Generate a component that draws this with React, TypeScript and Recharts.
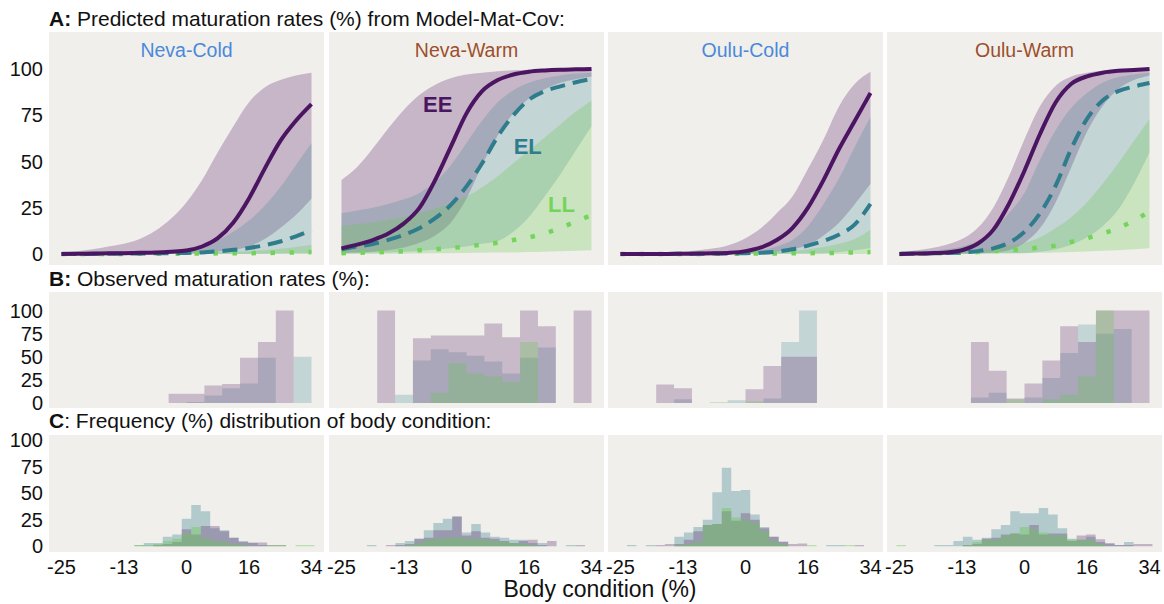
import React from 'react';
import {
  ComposedChart,
  AreaChart,
  Area,
  Line,
  XAxis,
  YAxis,
  CartesianGrid,
  ReferenceDot,
} from 'recharts';

const FONT = '"Liberation Sans", Arial, Helvetica, sans-serif';
const TEXT = '#111111';
const PANEL_BG = '#f1efec';
const EE_COLOR = '#4b1561';
const EL_COLOR = '#2f7d8c';
const LL_COLOR = '#74d45a';
const EE_FILL = '#6e3f7a';
const EL_FILL = '#3f8792';
const LL_FILL = '#66c850';

// x ticks are evenly spaced; labels are body condition in %
const xTicks = [-2, -1, 0, 1, 2];
const bodyConditionLabels = ['-25', '-13', '0', '16', '34'];
const rateTicks = [0, 25, 50, 75, 100];

const populations = ['Neva-Cold', 'Neva-Warm', 'Oulu-Cold', 'Oulu-Warm'];
const populationColors = ['#4a89d9', '#9c4f2c', '#4a89d9', '#9c4f2c'];

// ---- A: predicted maturation rates ----
const predX = [-2, -1.75, -1.5, -1.25, -1, -0.75, -0.5, -0.25, 0, 0.25, 0.5, 0.75, 1, 1.25, 1.5, 1.75, 2];

const nevaColdEE = [0, 0.1, 0.2, 0.3, 0.4, 0.6, 0.8, 1.2, 1.8, 4, 8.5, 17, 30, 46, 61, 72, 81];
const nevaColdEELo = [0, 0, 0, 0, 0, 0, 0.1, 0.2, 0.4, 0.8, 1.3, 2.2, 4, 8, 14, 21, 30];
const nevaColdEEHi = [0.5, 1.5, 2.5, 4, 5.5, 8, 12.5, 19, 28, 40, 55, 69, 82, 90, 94, 96.5, 98];
const nevaColdEL = [0, 0, 0, 0.1, 0.2, 0.2, 0.3, 0.4, 0.5, 0.8, 1.4, 2.2, 3.2, 4.7, 6.7, 9.5, 13];
const nevaColdELLo = [0, 0, 0, 0, 0, 0, 0, 0, 0, 0, 0, 0, 0, 0.1, 0.2, 0.3, 0.5];
const nevaColdELHi = [0, 0.1, 0.2, 0.3, 0.4, 0.6, 1, 1.8, 3, 5, 7.5, 12, 18, 26, 36, 48, 60];
const nevaColdLL = [0, 0, 0, 0, 0, 0.1, 0.1, 0.1, 0.2, 0.2, 0.3, 0.3, 0.4, 0.5, 0.6, 0.8, 1];
const nevaColdLLLo = [0, 0, 0, 0, 0, 0, 0, 0, 0, 0, 0, 0, 0, 0, 0, 0, 0];
const nevaColdLLHi = [0, 0, 0.1, 0.1, 0.2, 0.2, 0.3, 0.4, 0.5, 0.7, 0.9, 1.2, 1.5, 2, 2.8, 3.8, 5];

const nevaWarmEE = [3, 5, 7.5, 11, 16.5, 25, 40, 58, 76, 88, 94, 97, 98.5, 99.2, 99.6, 99.8, 100];
const nevaWarmEELo = [0.5, 0.8, 1.2, 2, 3.5, 6, 10, 17, 30, 48, 64, 76, 84, 89, 92.5, 94.5, 96];
const nevaWarmEEHi = [40, 47, 57, 68, 78, 86, 91.5, 95, 97, 98, 98.8, 99.3, 99.6, 99.8, 99.9, 100, 100];
const nevaWarmEL = [2.5, 4, 5.4, 7.6, 10.3, 14, 19.3, 26.5, 36.5, 49, 63.5, 75, 83.4, 88, 90.6, 92.8, 94.6];
const nevaWarmELLo = [0.3, 0.4, 0.6, 0.8, 1.2, 1.6, 2.2, 3, 4, 5.5, 7, 12, 20, 31, 43, 56, 69];
const nevaWarmELHi = [22, 23.5, 25, 27, 29.5, 33, 39, 48, 60, 72, 82, 88.5, 92.5, 95, 96.5, 97.5, 98];
const nevaWarmLL = [0.4, 0.6, 0.8, 1.1, 1.5, 2, 2.5, 3.2, 4, 5, 6, 7.5, 9, 11, 14, 17.5, 21];
const nevaWarmLLLo = [0, 0, 0, 0.1, 0.1, 0.2, 0.3, 0.4, 0.5, 0.6, 0.7, 0.8, 1, 1.2, 1.4, 1.7, 2];
const nevaWarmLLHi = [15, 16, 17, 18.5, 20, 22, 24.5, 27.5, 31, 36, 42, 49, 56, 63, 70, 77, 83];

const ouluColdEE = [0, 0, 0, 0, 0.1, 0.2, 0.3, 0.6, 1.5, 3.5, 7.5, 14, 25, 40, 57, 72, 87];
const ouluColdEELo = [0, 0, 0, 0, 0, 0, 0.1, 0.2, 0.3, 0.5, 1, 2.5, 5, 10, 17, 27, 38];
const ouluColdEEHi = [0.2, 0.3, 0.5, 0.8, 1.2, 2, 3, 5, 8.5, 14, 22, 31, 46, 62, 80, 92, 98.5];
const ouluColdEL = [0, 0, 0, 0, 0.1, 0.1, 0.2, 0.3, 0.4, 0.6, 1.2, 2.5, 4.5, 7, 10.5, 16, 27];
const ouluColdELLo = [0, 0, 0, 0, 0, 0, 0, 0, 0, 0, 0, 0.1, 0.2, 0.4, 1, 2, 3];
const ouluColdELHi = [0, 0, 0, 0.1, 0.2, 0.3, 0.5, 0.7, 1, 2, 4, 7.5, 15, 27, 41, 58, 74];
const ouluColdLL = [0, 0, 0, 0, 0, 0, 0.1, 0.1, 0.1, 0.2, 0.2, 0.3, 0.4, 0.5, 0.6, 0.8, 1];
const ouluColdLLLo = [0, 0, 0, 0, 0, 0, 0, 0, 0, 0, 0, 0, 0, 0, 0, 0, 0];
const ouluColdLLHi = [0.1, 0.1, 0.2, 0.2, 0.3, 0.3, 0.4, 0.5, 0.6, 0.8, 1, 1.5, 2.5, 3.8, 5.5, 8, 13];

const ouluWarmEE = [0, 0.2, 0.4, 0.8, 2, 5.5, 13, 27, 45, 65, 82, 92, 96, 98, 99, 99.5, 100];
const ouluWarmEELo = [0, 0, 0, 0.1, 0.2, 0.4, 0.8, 2, 6, 14, 28, 47, 66, 80, 89, 94, 96.5];
const ouluWarmEEHi = [1, 1.8, 3, 5, 8, 14, 25, 42, 62, 80, 91, 96, 98, 99, 99.5, 99.8, 100];
const ouluWarmEL = [0, 0.1, 0.3, 0.5, 0.8, 1.5, 3, 6, 12, 22, 37, 57, 73, 83, 88, 90.5, 92.4];
const ouluWarmELLo = [0, 0, 0, 0, 0, 0.1, 0.2, 0.3, 0.5, 1.2, 2.5, 5, 9, 15, 24, 38, 55];
const ouluWarmELHi = [0.5, 1, 1.6, 2.5, 4, 7, 13, 22, 33, 51, 67, 79, 87, 92.5, 95.5, 97, 98];
const ouluWarmLL = [0, 0.1, 0.3, 0.4, 0.7, 1, 1.5, 2, 2.5, 3.5, 4.5, 6.5, 8.5, 11, 14, 18, 23];
const ouluWarmLLLo = [0, 0, 0, 0, 0, 0.1, 0.2, 0.3, 0.4, 0.6, 0.8, 1, 1.3, 1.7, 2, 2.5, 3];
const ouluWarmLLHi = [0.5, 0.8, 1, 1.2, 1.5, 2, 3, 4.5, 6, 9, 14, 20, 28, 38, 49, 61, 73];

// ---- B: observed maturation rates (bins between edges) ----
const obsEdges = [-2, -1.714, -1.429, -1.143, -0.857, -0.571, -0.286, 0, 0.286, 0.571, 0.857, 1.143, 1.429, 1.714, 2];

const nevaColdObsEE = [0, 0, 0, 0, 0, 0, 10, 10, 19, 20.5, 49, 66, 100, 0];
const nevaColdObsEL = [0, 0, 0, 0, 0, 0, 0, 1, 8, 16, 21, 49, 0, 50];
const nevaColdObsLL = [0, 0, 0, 0, 0, 0, 0, 0, 0, 0, 0, 0, 0, 0];

const nevaWarmObsEE = [0, 0, 100, 0, 70, 73, 73, 73, 86, 71, 100, 83, 0, 100];
const nevaWarmObsEL = [0, 0, 0, 9, 46, 58, 55, 51, 45, 32, 49, 60, 0, 0];
const nevaWarmObsLL = [0, 0, 0, 0, 0, 11, 43, 32, 29, 23, 66, 0, 0, 0];

const ouluColdObsEE = [0, 0, 20, 16, 0, 0, 0, 15, 40, 50, 50, 0, 0, 0];
const ouluColdObsEL = [0, 0, 0, 4, 0, 0, 3, 0, 5, 66, 100, 0, 0, 0];
const ouluColdObsLL = [0, 0, 0, 0, 0, 1, 0, 2, 0, 0, 0, 0, 0, 0];

const ouluWarmObsEE = [0, 0, 0, 0, 66, 35, 5, 21, 46, 83, 66, 100, 100, 100];
const ouluWarmObsEL = [0, 0, 0, 0, 6, 11, 0, 6, 27, 54, 85, 75, 80, 0];
const ouluWarmObsLL = [0, 0, 0, 0, 0, 0, 4, 0, 4, 9, 29, 100, 0, 0];

// ---- C: frequency distribution of body condition ----
const freqEdges = [
  -2.2, -2.048, -1.897, -1.745, -1.593, -1.441, -1.29, -1.138, -0.986, -0.834, -0.683, -0.531, -0.379, -0.228, -0.076,
  0.076, 0.228, 0.379, 0.531, 0.683, 0.834, 0.986, 1.138, 1.29, 1.441, 1.593, 1.745, 1.897, 2.048, 2.2,
];

const nevaColdFreqEL = [0, 0, 0, 0, 0, 0, 0, 0, 0, 1, 3, 3, 9, 11, 26, 39, 33, 17, 15, 8, 5, 3, 1, 0, 0, 0, 0, 0, 0];
const nevaColdFreqEE = [0, 0, 0, 0, 0, 0, 0, 0, 0, 0, 0, 1, 2, 4, 16, 11, 19, 19, 14, 8, 4, 3.5, 3.5, 1, 1, 0, 0, 0, 0];
const nevaColdFreqLL = [0, 0, 0, 0, 0, 0, 0, 0, 0, 1, 1, 2, 5, 7, 12, 18, 8, 5, 4, 2, 1, 0, 0, 1, 1, 0, 1, 1, 0];

const nevaWarmFreqEL = [0, 0, 0, 0, 1, 0, 0, 3, 5, 7, 15, 22, 26, 28, 13, 21, 13, 9, 8, 6, 6, 3, 3, 0, 0, 1, 0, 0, 0];
const nevaWarmFreqEE = [0, 0, 0, 0, 0, 0, 1, 1, 2, 7, 8, 15, 15, 28, 10, 14, 8, 7, 5, 3, 5, 6, 1, 5, 0, 0, 1, 0, 0];
const nevaWarmFreqLL = [0, 0, 0, 0, 0, 0, 0, 0, 1, 3, 6, 7, 8, 8, 7, 7, 6, 5, 4, 3, 2, 1, 0, 0, 0, 0, 0, 0, 0];

const ouluColdFreqEL = [0, 0, 1, 0, 1, 0, 0, 9, 13, 18, 25, 51, 74, 52, 53, 30, 18, 9, 4, 0, 0, 0, 0, 1, 1, 0, 0, 0, 0];
const ouluColdFreqEE = [0, 0, 0, 0, 0, 1, 2, 2, 6, 14, 20, 21, 33, 24, 31, 25, 17, 9, 4.5, 2, 2.5, 0, 0, 0, 0, 0, 1, 0, 0];
const ouluColdFreqLL = [0, 0, 0, 0, 0, 0, 0, 1, 2, 4, 20, 21, 36, 27, 25, 22, 14, 5, 2, 0, 0, 1, 0, 0, 0, 1, 0, 0, 0];

const ouluWarmFreqEL = [0, 0, 0, 0, 0, 1, 1, 5, 9, 6, 8, 16, 20, 33, 31, 31, 36, 30, 17, 7, 6, 9, 4, 2, 1, 4, 0, 0, 0];
const ouluWarmFreqEE = [0, 0, 0, 0, 0, 0, 0, 0, 1, 2, 7, 8, 11, 12, 11, 20, 11, 12, 12, 5, 10, 11, 6.5, 3, 1, 1, 2, 2, 0];
const ouluWarmFreqLL = [0, 1, 0, 0, 0, 0, 0, 0, 1, 4, 6, 6, 10, 12, 18, 16, 13, 10, 10, 6, 6, 6, 2, 0, 0, 0, 0, 0, 0];

// ---- layout ----
const PANEL_LEFT = [49, 329, 608, 887];
const PANEL_W = 275;
const AXIS_W = 49;
const X_DOMAIN: [number, number] = [-2.2, 2.2];

const predictedSets = [
  [nevaColdEE, nevaColdEELo, nevaColdEEHi, nevaColdEL, nevaColdELLo, nevaColdELHi, nevaColdLL, nevaColdLLLo, nevaColdLLHi],
  [nevaWarmEE, nevaWarmEELo, nevaWarmEEHi, nevaWarmEL, nevaWarmELLo, nevaWarmELHi, nevaWarmLL, nevaWarmLLLo, nevaWarmLLHi],
  [ouluColdEE, ouluColdEELo, ouluColdEEHi, ouluColdEL, ouluColdELLo, ouluColdELHi, ouluColdLL, ouluColdLLLo, ouluColdLLHi],
  [ouluWarmEE, ouluWarmEELo, ouluWarmEEHi, ouluWarmEL, ouluWarmELLo, ouluWarmELHi, ouluWarmLL, ouluWarmLLLo, ouluWarmLLHi],
];
const observedSets = [
  [nevaColdObsEE, nevaColdObsEL, nevaColdObsLL],
  [nevaWarmObsEE, nevaWarmObsEL, nevaWarmObsLL],
  [ouluColdObsEE, ouluColdObsEL, ouluColdObsLL],
  [ouluWarmObsEE, ouluWarmObsEL, ouluWarmObsLL],
];
const frequencySets = [
  [nevaColdFreqEE, nevaColdFreqEL, nevaColdFreqLL],
  [nevaWarmFreqEE, nevaWarmFreqEL, nevaWarmFreqLL],
  [ouluColdFreqEE, ouluColdFreqEL, ouluColdFreqLL],
  [ouluWarmFreqEE, ouluWarmFreqEL, ouluWarmFreqLL],
];

const predictedTable = (col: number) => {
  const [ee, eeLo, eeHi, el, elLo, elHi, ll, llLo, llHi] = predictedSets[col];
  return predX.map((x, i) => ({
    x,
    ee: ee[i],
    eeBand: [eeLo[i], eeHi[i]],
    el: el[i],
    elBand: [elLo[i], elHi[i]],
    ll: ll[i],
    llBand: [llLo[i], llHi[i]],
  }));
};

// step table: one row per bin edge, value of the bin that starts there
const stepTable = (edges: number[], sets: number[][]) =>
  edges.map((x, i) => ({
    x,
    ee: sets[0][i] ?? 0,
    el: sets[1][i] ?? 0,
    ll: sets[2][i] ?? 0,
  }));

const frame = (col: number) =>
  col === 0 ? { left: 0, width: AXIS_W + PANEL_W } : { left: PANEL_LEFT[col], width: PANEL_W };

const yAxisFor = (col: number, domain: [number, number]) => (
  <YAxis
    type="number"
    domain={domain}
    ticks={rateTicks}
    allowDataOverflow
    hide={col !== 0}
    width={AXIS_W}
    axisLine={false}
    tickLine={false}
    tickSize={0}
    tickMargin={6}
    interval={0}
    tick={{ fontSize: 20, fill: TEXT, fontFamily: FONT }}
  />
);

const labelDot = (x: number, y: number, text: string, color: string) => (
  <ReferenceDot
    x={x}
    y={y}
    r={0}
    fill="none"
    stroke="none"
    ifOverflow="visible"
    label={{ value: text, position: 'center', fill: color, fontSize: 22, fontWeight: 'bold', fontFamily: FONT }}
  />
);

const PredictedPanel = ({ col }: { col: number }) => {
  const f = frame(col);
  return (
    <div style={{ position: 'absolute', left: f.left, top: 32 }}>
      <ComposedChart width={f.width} height={233} data={predictedTable(col)} margin={{ top: 0, right: 0, bottom: 0, left: 0 }}>
        <CartesianGrid fill={PANEL_BG} stroke="none" horizontal={false} vertical={false} />
        <XAxis type="number" dataKey="x" domain={X_DOMAIN} allowDataOverflow hide />
        {yAxisFor(col, [-6, 120])}
        <Area type="monotone" dataKey="eeBand" stroke="none" fill={EE_FILL} fillOpacity={0.32} isAnimationActive={false} />
        <Area type="monotone" dataKey="elBand" stroke="none" fill={EL_FILL} fillOpacity={0.25} isAnimationActive={false} />
        <Area type="monotone" dataKey="llBand" stroke="none" fill={LL_FILL} fillOpacity={0.28} isAnimationActive={false} />
        <Line type="monotone" dataKey="ll" stroke={LL_COLOR} strokeWidth={4.5} strokeDasharray="4.5 14.5" dot={false} isAnimationActive={false} />
        <Line type="monotone" dataKey="el" stroke={EL_COLOR} strokeWidth={4} strokeDasharray="15 8" dot={false} isAnimationActive={false} />
        <Line type="monotone" dataKey="ee" stroke={EE_COLOR} strokeWidth={4} dot={false} isAnimationActive={false} />
        {col === 1 && labelDot(-0.46, 81, 'EE', EE_COLOR)}
        {col === 1 && labelDot(0.98, 58.5, 'EL', EL_COLOR)}
        {col === 1 && labelDot(1.52, 27, 'LL', LL_COLOR)}
      </ComposedChart>
    </div>
  );
};

const StepPanel = ({
  col,
  top,
  height,
  axisHeight,
  domain,
  data,
  opacity,
}: {
  col: number;
  top: number;
  height: number;
  axisHeight: number;
  domain: [number, number];
  data: { x: number; ee: number; el: number; ll: number }[];
  opacity: number[];
}) => {
  const f = frame(col);
  return (
    <div style={{ position: 'absolute', left: f.left, top }}>
      <AreaChart width={f.width} height={height + axisHeight} data={data} margin={{ top: 0, right: 0, bottom: 0, left: 0 }}>
        <CartesianGrid fill={PANEL_BG} stroke="none" horizontal={false} vertical={false} />
        <XAxis
          type="number"
          dataKey="x"
          domain={X_DOMAIN}
          allowDataOverflow
          hide={axisHeight === 0}
          height={axisHeight}
          ticks={xTicks}
          interval={0}
          axisLine={false}
          tickLine={false}
          tickSize={0}
          tickMargin={8}
          tickFormatter={(v: number) => bodyConditionLabels[xTicks.indexOf(v)]}
          tick={{ fontSize: 20, fill: TEXT, fontFamily: FONT }}
        />
        {yAxisFor(col, domain)}
        <Area type="stepAfter" dataKey="el" baseValue={0} stroke="none" fill={EL_FILL} fillOpacity={opacity[1]} isAnimationActive={false} />
        <Area type="stepAfter" dataKey="ee" baseValue={0} stroke="none" fill={EE_FILL} fillOpacity={opacity[0]} isAnimationActive={false} />
        <Area type="stepAfter" dataKey="ll" baseValue={0} stroke="none" fill={LL_FILL} fillOpacity={opacity[2]} isAnimationActive={false} />
      </AreaChart>
    </div>
  );
};

export default function App() {
  return (
    <div
      style={{
        position: 'absolute',
        left: 0,
        top: 0,
        width: 1164,
        height: 604,
        background: '#ffffff',
        fontFamily: FONT,
        overflow: 'hidden',
      }}
    >
      <style>{`.recharts-wrapper, .recharts-surface { overflow: visible !important; }`}</style>
      {populations.map((p, col) => (
        <PredictedPanel key={`a-${p}`} col={col} />
      ))}
      {populations.map((p, col) => (
        <StepPanel
          key={`b-${p}`}
          col={col}
          top={292}
          height={116}
          axisHeight={0}
          domain={[-5.4, 120]}
          data={stepTable(obsEdges, observedSets[col])}
          opacity={[0.3, 0.25, 0.3]}
        />
      ))}
      {populations.map((p, col) => (
        <StepPanel
          key={`c-${p}`}
          col={col}
          top={435}
          height={117}
          axisHeight={30}
          domain={[-5.5, 105]}
          data={stepTable(freqEdges, frequencySets[col])}
          opacity={[0.35, 0.35, 0.4]}
        />
      ))}
      <svg width={1164} height={604} style={{ position: 'absolute', left: 0, top: 0, pointerEvents: 'none' }}>
        <text x={49} y={26} fontSize={21} fill={TEXT} fontFamily={FONT}>
          <tspan fontWeight="bold">A:</tspan> Predicted maturation rates (%) from Model-Mat-Cov:
        </text>
        <text x={49} y={286} fontSize={21} fill={TEXT} fontFamily={FONT}>
          <tspan fontWeight="bold">B:</tspan> Observed maturation rates (%):
        </text>
        <text x={49} y={428} fontSize={21} fill={TEXT} fontFamily={FONT}>
          <tspan fontWeight="bold">C</tspan>: Frequency (%) distribution of body condition:
        </text>
        {populations.map((p, col) => (
          <text
            key={`t-${p}`}
            x={PANEL_LEFT[col] + PANEL_W / 2}
            y={57}
            textAnchor="middle"
            fontSize={19.5}
            fill={populationColors[col]}
            fontFamily={FONT}
          >
            {p}
          </text>
        ))}
        <text x={600} y={597} textAnchor="middle" fontSize={23} fill={TEXT} fontFamily={FONT}>
          Body condition (%)
        </text>
      </svg>
    </div>
  );
}
